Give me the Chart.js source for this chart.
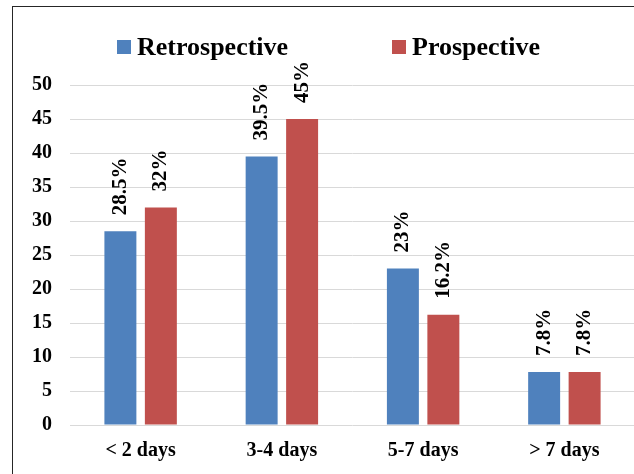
<!DOCTYPE html>
<html>
<head>
<meta charset="utf-8">
<script src="https://cdn.jsdelivr.net/npm/chart.js@4/dist/chart.umd.min.js"></script>
<style>
  html, body { margin: 0; padding: 0; background: #fff; overflow: hidden; }
  body { width: 634px; height: 474px; position: relative; }
  #frame { position: absolute; left: 12px; top: 6px; width: 700px; height: 520px; border: 1px solid #262626; box-sizing: border-box; }
  #chart { position: absolute; left: 0; top: 0; display: block; }
</style>
</head>
<body>
<div id="frame"></div>
<canvas id="chart" width="660" height="474"></canvas>
<script>
const categories = ['< 2 days', '3-4 days', '5-7 days', '> 7 days'];
const retrospective = [28.5, 39.5, 23, 7.8];
const prospective = [32, 45, 16.2, 7.8];
const retroLabels = ['28.5%', '39.5%', '23%', '7.8%'];
const prospLabels = ['32%', '45%', '16.2%', '7.8%'];
const seriesNames = ['Retrospective', 'Prospective'];

const FONT = '"Liberation Serif", "Times New Roman", serif';

// rotated value labels above each bar
const barLabels = {
  id: 'barLabels',
  afterDatasetsDraw(chart) {
    const ctx = chart.ctx;
    const texts = [retroLabels, prospLabels];
    ctx.save();
    ctx.font = 'bold 21px ' + FONT;
    ctx.fillStyle = '#000';
    ctx.textAlign = 'left';
    ctx.textBaseline = 'middle';
    chart.data.datasets.forEach((ds, i) => {
      chart.getDatasetMeta(i).data.forEach((bar, j) => {
        ctx.save();
        ctx.translate(bar.x, bar.y - 16);
        ctx.rotate(-Math.PI / 2);
        ctx.fillText(texts[i][j], 0, 0);
        ctx.restore();
      });
    });
    ctx.restore();
  }
};

// legend drawn by hand, the built-in one can't give the wide gap between items
const topLegend = {
  id: 'topLegend',
  afterDraw(chart) {
    const ctx = chart.ctx;
    const spots = [117, 392];
    ctx.save();
    ctx.font = 'bold 26px ' + FONT;
    ctx.textBaseline = 'alphabetic';
    ctx.textAlign = 'left';
    chart.data.datasets.forEach((ds, i) => {
      ctx.fillStyle = ds.backgroundColor;
      ctx.fillRect(spots[i], 40, 14, 14);
      ctx.fillStyle = '#000';
      ctx.fillText(ds.label, spots[i] + 20, 55);
    });
    ctx.restore();
  }
};

new Chart(document.getElementById('chart'), {
  type: 'bar',
  data: {
    labels: categories,
    datasets: [
      { label: seriesNames[0], data: retrospective, backgroundColor: '#4f81bd' },
      { label: seriesNames[1], data: prospective, backgroundColor: '#c0504d' }
    ]
  },
  options: {
    responsive: false,
    animation: false,
    categoryPercentage: 0.573,
    barPercentage: 0.79,
    layout: { padding: { top: 85, right: 25, bottom: 11, left: 0 } },
    plugins: { legend: { display: false }, tooltip: { enabled: false } },
    scales: {
      x: {
        afterFit: (s) => { s.height = 38; },
        grid: { display: false, drawTicks: false },
        border: { display: false },
        ticks: { color: '#000', padding: 14, font: { family: FONT, size: 20, weight: 'bold' } }
      },
      y: {
        min: 0,
        max: 50,
        afterFit: (s) => { s.width = 70; },
        grid: { color: '#d9d9d9', lineWidth: 1, drawTicks: false },
        border: { display: false },
        ticks: { stepSize: 5, color: '#000', padding: 18, font: { family: FONT, size: 20, weight: 'bold' } }
      }
    }
  },
  plugins: [barLabels, topLegend]
});
</script>
</body>
</html>
